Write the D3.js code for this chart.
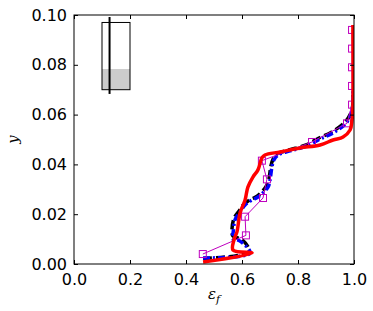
<!DOCTYPE html>
<html>
<head>
<meta charset="utf-8">
<script src="https://cdn.jsdelivr.net/npm/d3@7"></script>
<style>
  body { margin: 0; background: #fff; }
  svg text { font-family: "DejaVu Sans", sans-serif; }
</style>
</head>
<body>
<svg id="chart"></svg>
<script>
// profile data
const magX = [0.46, 0.614, 0.611, 0.675, 0.689, 0.671, 0.85, 0.975, 0.993, 0.993, 0.993, 0.993, 0.993];
const magY = [0.004, 0.0115, 0.019, 0.0265, 0.034, 0.0415, 0.049, 0.0565, 0.064, 0.0715, 0.079, 0.0865, 0.094];

const blackX = [0.461, 0.625, 0.6, 0.568, 0.564, 0.571, 0.589, 0.607, 0.632, 0.654, 0.686, 0.696, 0.703, 0.711, 0.725, 0.768, 0.829, 0.875, 0.921, 0.971, 0.993, 0.996];
const blackY = [0.0022, 0.005, 0.0098, 0.0112, 0.013, 0.0182, 0.0212, 0.024, 0.026, 0.0272, 0.0312, 0.034, 0.0393, 0.0421, 0.0442, 0.0458, 0.0478, 0.0506, 0.053, 0.0574, 0.062, 0.068];

const blueX = [0.461, 0.629, 0.593, 0.564, 0.568, 0.575, 0.593, 0.611, 0.636, 0.657, 0.693, 0.7, 0.707, 0.714, 0.729, 0.771, 0.832, 0.879, 0.925, 0.975, 0.993, 0.996, 0.996];
const blueY = [0.0024, 0.0044, 0.0092, 0.0104, 0.0124, 0.0177, 0.0209, 0.0237, 0.0257, 0.0269, 0.0309, 0.0337, 0.039, 0.0418, 0.0438, 0.0454, 0.0474, 0.0502, 0.0526, 0.057, 0.0618, 0.0659, 0.07];

const redX = [0.461, 0.636, 0.568, 0.571, 0.582, 0.593, 0.611, 0.621, 0.639, 0.657, 0.671, 0.682, 0.736, 0.807, 0.879, 0.925, 0.961, 0.986, 0.993, 0.996, 0.996];
const redY = [0.0008, 0.0044, 0.0056, 0.0096, 0.0129, 0.0205, 0.0257, 0.0309, 0.0349, 0.0378, 0.0426, 0.0438, 0.045, 0.0466, 0.0478, 0.0498, 0.051, 0.0538, 0.0578, 0.063, 0.096];

// inset box (domain extent + filled level + rod)
const boxX = [0.1, 0.2];
const boxY = [0.07, 0.097];
const fillY = [0.07, 0.0783];
const rodX = 0.127;
const rodY = [0.0683, 0.0992];

const xTicks = [0, 0.2, 0.4, 0.6, 0.8, 1.0];
const yTicks = [0, 0.02, 0.04, 0.06, 0.08, 0.1];

// chart dimensions
const width = 373, height = 311;
const marginLeft = 74, marginRight = 19, marginTop = 15, marginBottom = 47;

const svg = d3.select("#chart").attr("width", width).attr("height", height);

const x = d3.scaleLinear().domain([0, 1]).range([marginLeft, width - marginRight]);
const y = d3.scaleLinear().domain([0, 0.1]).range([height - marginBottom, marginTop]);

const zip = (xs, ys) => xs.map((v, i) => [v, ys[i]]);
const line = d3.line().x(d => x(d[0])).y(d => y(d[1])).curve(d3.curveCatmullRom.alpha(0.5));

svg.append("defs").append("clipPath").attr("id", "clip")
  .append("rect")
  .attr("x", x(0)).attr("y", y(0.1))
  .attr("width", x(1) - x(0)).attr("height", y(0) - y(0.1));

const plot = svg.append("g").attr("clip-path", "url(#clip)");

// inset
plot.append("rect")
  .attr("x", x(boxX[0])).attr("y", y(fillY[1]))
  .attr("width", x(boxX[1]) - x(boxX[0])).attr("height", y(fillY[0]) - y(fillY[1]))
  .attr("fill", "#cccccc");
plot.append("rect")
  .attr("x", x(boxX[0])).attr("y", y(boxY[1]))
  .attr("width", x(boxX[1]) - x(boxX[0])).attr("height", y(boxY[0]) - y(boxY[1]))
  .attr("fill", "none").attr("stroke", "#000").attr("stroke-width", 1);
plot.append("line")
  .attr("x1", x(rodX)).attr("x2", x(rodX))
  .attr("y1", y(rodY[0])).attr("y2", y(rodY[1]))
  .attr("stroke", "#000").attr("stroke-width", 2);

// curves
plot.append("path").datum(zip(blackX, blackY))
  .attr("d", line).attr("fill", "none")
  .attr("stroke", "#000").attr("stroke-width", 3.5).attr("stroke-dasharray", "9,4");
plot.append("path").datum(zip(blueX, blueY))
  .attr("d", line).attr("fill", "none")
  .attr("stroke", "#0000ff").attr("stroke-width", 3.5).attr("stroke-dasharray", "7,3,2,3");

const magPts = zip(magX, magY);
plot.append("path").datum(magPts)
  .attr("d", d3.line().x(d => x(d[0])).y(d => y(d[1])))
  .attr("fill", "none").attr("stroke", "#bf00bf").attr("stroke-width", 1);
plot.append("g").selectAll("rect").data(magPts).join("rect")
  .attr("x", d => x(d[0]) - 3.5).attr("y", d => y(d[1]) - 3.5)
  .attr("width", 7).attr("height", 7)
  .attr("fill", "none").attr("stroke", "#bf00bf").attr("stroke-width", 1);

plot.append("path").datum(zip(redX, redY))
  .attr("d", line).attr("fill", "none")
  .attr("stroke", "#ff0000").attr("stroke-width", 3.5).attr("stroke-linejoin", "round");

// axes with inward ticks on all sides
const fmtX = d3.format(".1f"), fmtY = d3.format(".2f");
const axB = svg.append("g").attr("transform", `translate(0,${y(0)})`)
  .call(d3.axisBottom(x).tickValues(xTicks).tickFormat(fmtX).tickSizeInner(-4).tickSizeOuter(0).tickPadding(10));
const axT = svg.append("g").attr("transform", `translate(0,${y(0.1)})`)
  .call(d3.axisTop(x).tickValues(xTicks).tickFormat("").tickSizeInner(-4).tickSizeOuter(0));
const axL = svg.append("g").attr("transform", `translate(${x(0)},0)`)
  .call(d3.axisLeft(y).tickValues(yTicks).tickFormat(fmtY).tickSizeInner(-4).tickSizeOuter(0).tickPadding(7));
const axR = svg.append("g").attr("transform", `translate(${x(1)},0)`)
  .call(d3.axisRight(y).tickValues(yTicks).tickFormat("").tickSizeInner(-4).tickSizeOuter(0));

[axB, axT, axL, axR].forEach(a => {
  a.select(".domain").remove();
  a.selectAll(".tick line").attr("stroke", "#000");
  a.selectAll("text").attr("font-size", 16).attr("fill", "#000").style("font-family", "DejaVu Sans, sans-serif");
});

svg.append("rect")
  .attr("x", x(0)).attr("y", y(0.1))
  .attr("width", x(1) - x(0)).attr("height", y(0) - y(0.1))
  .attr("fill", "none").attr("stroke", "#000").attr("stroke-width", 1);

// axis labels
const xl = svg.append("text")
  .attr("x", (x(0) + x(1)) / 2).attr("y", 299)
  .attr("text-anchor", "middle").attr("font-size", 15).attr("font-style", "italic")
  .style("font-family", "DejaVu Serif, serif");
xl.append("tspan").text("ε");
xl.append("tspan").attr("font-size", 11).attr("dy", 4).text("f");

svg.append("text")
  .attr("transform", `translate(18,${(y(0) + y(0.1)) / 2}) rotate(-90)`)
  .attr("text-anchor", "middle").attr("font-size", 15).attr("font-style", "italic")
  .style("font-family", "DejaVu Serif, serif")
  .text("y");
</script>
</body>
</html>
